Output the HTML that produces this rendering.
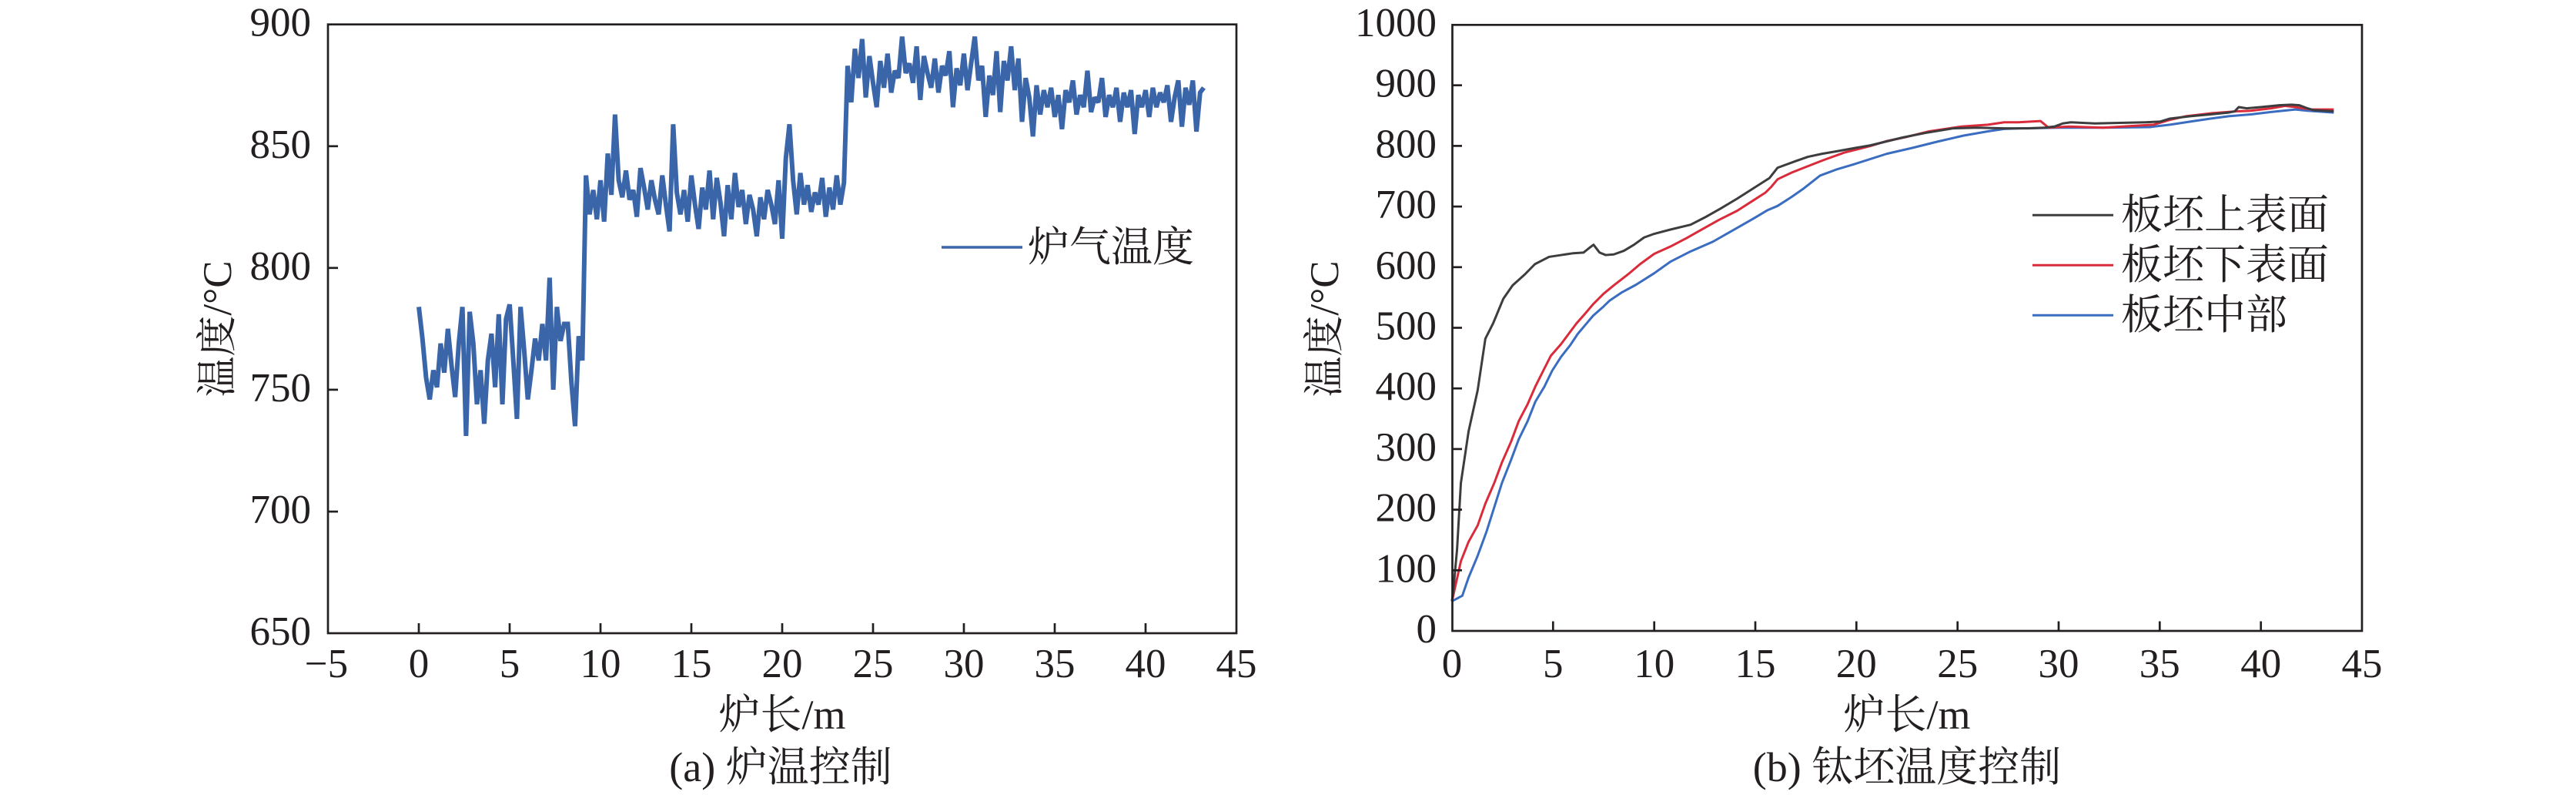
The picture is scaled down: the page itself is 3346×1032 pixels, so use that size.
<!DOCTYPE html>
<html>
<head>
<meta charset="utf-8">
<style>
html,body{margin:0;padding:0;background:#fff;}
svg{display:block;}
text{font-family:"Liberation Serif","Noto Serif CJK SC",serif;fill:#231f20;}
</style>
</head>
<body>
<svg width="3346" height="1032" viewBox="0 0 3346 1032" xmlns="http://www.w3.org/2000/svg">
<rect x="0" y="0" width="3346" height="1032" fill="#fff"/>

<!-- ============ LEFT PLOT ============ -->
<g transform="matrix(23.6 0 0 -3.1612 544 2876.78)">
<polyline fill="none" stroke="#3a66a9" stroke-width="6" vector-effect="non-scaling-stroke" stroke-linejoin="miter" stroke-miterlimit="2"
points="0,784 .2,771 .4,755 .6,746 .8,758 1,751 1.2,769 1.4,757 1.6,775 1.8,760 2,747 2.2,769 2.4,784 2.6,731 2.8,782 3,769 3.2,744 3.4,758 3.6,736 3.8,762 4,773 4.2,751 4.4,781 4.6,744 4.8,779 5,785 5.2,762 5.4,738 5.6,784 5.8,766 6,746 6.2,758 6.4,771 6.6,762 6.8,777 7,762 7.2,796 7.4,750 7.6,784 7.8,770 8,777 8.2,777 8.4,753 8.6,735 8.8,772 9,762
9.2,838 9.4,822 9.6,832 9.8,820 10,836 10.2,819 10.4,847 10.6,830 10.8,863 11,836 11.2,829 11.4,840 11.6,828 11.8,832 12,821 12.2,841 12.4,833 12.6,824 12.8,836 13,828 13.2,822 13.4,838 13.6,826 13.8,815 14,859 14.2,831 14.4,822 14.6,832 14.8,819 15,838 15.2,826 15.4,816 15.6,833 15.8,824 16,840 16.2,820 16.4,837 16.6,827 16.8,813 17,834 17.2,820 17.4,839 17.6,825 17.8,832 18,818 18.2,830 18.4,824 18.6,813 18.8,829 19,820 19.2,832 19.4,826 19.6,818 19.8,836 20,812 20.2,845 20.4,859 20.6,836 20.8,822 21,839 21.2,826 21.4,834 21.6,823 21.8,831 22,826 22.2,837 22.4,821 22.6,833 22.8,824 23,838 23.2,826 23.4,835
23.6,883 23.8,868 24,890 24.2,878 24.4,894 24.6,870 24.8,887 25,876 25.2,866 25.4,885 25.6,874 25.8,888 26,872 26.2,881 26.4,878 26.6,895 26.8,880 27,884 27.2,876 27.4,891 27.6,869 27.8,887 28,880 28.2,874 28.4,886 28.6,872 28.8,883 29,879 29.2,889 29.4,866 29.6,882 29.8,875 30,888 30.2,873 30.4,884 30.6,895 30.8,877 31,883 31.2,862 31.4,879 31.6,871 31.8,889 32,864 32.2,885 32.4,877 32.6,891 32.8,873 33,886 33.2,860
33.4,878 33.6,870 33.8,854 34,875 34.2,863 34.4,873 34.6,866 34.8,874 35,862 35.2,871 35.4,857 35.6,873 35.8,868 36,877 36.2,863 36.4,871 36.6,866 36.8,881 37,864 37.2,870 37.4,868 37.6,878 37.8,862 38,871 38.2,866 38.4,874 38.6,860 38.8,872 39,866 39.2,873 39.4,855 39.6,871 39.8,866 40,873 40.2,862 40.4,874 40.6,866 40.8,872 41,868 41.2,875 41.4,860 41.6,870 41.8,877 42,858 42.2,874 42.4,867 42.6,877 42.8,856 43,872 43.2,874"/>
</g>

<!-- frame -->
<rect x="426" y="31.7" width="1180" height="790.3" fill="none" stroke="#231f20" stroke-width="2.7"/>
<!-- y ticks -->
<g stroke="#231f20" stroke-width="2.7">
<line x1="426" y1="189.8" x2="439" y2="189.8"/>
<line x1="426" y1="347.8" x2="439" y2="347.8"/>
<line x1="426" y1="505.9" x2="439" y2="505.9"/>
<line x1="426" y1="664.1" x2="439" y2="664.1"/>
<!-- x ticks -->
<line x1="544" y1="822" x2="544" y2="809"/>
<line x1="662" y1="822" x2="662" y2="809"/>
<line x1="780" y1="822" x2="780" y2="809"/>
<line x1="898" y1="822" x2="898" y2="809"/>
<line x1="1016" y1="822" x2="1016" y2="809"/>
<line x1="1134" y1="822" x2="1134" y2="809"/>
<line x1="1252" y1="822" x2="1252" y2="809"/>
<line x1="1370" y1="822" x2="1370" y2="809"/>
<line x1="1488" y1="822" x2="1488" y2="809"/>
</g>
<g font-size="53" text-anchor="end">
<text x="404" y="46.7">900</text>
<text x="404" y="204.8">850</text>
<text x="404" y="362.8">800</text>
<text x="404" y="520.9">750</text>
<text x="404" y="679.1">700</text>
<text x="404" y="837">650</text>
</g>
<g font-size="53" text-anchor="middle">
<text x="424" y="879">−5</text>
<text x="544" y="879">0</text>
<text x="662" y="879">5</text>
<text x="780" y="879">10</text>
<text x="898" y="879">15</text>
<text x="1016" y="879">20</text>
<text x="1134" y="879">25</text>
<text x="1252" y="879">30</text>
<text x="1370" y="879">35</text>
<text x="1488" y="879">40</text>
<text x="1606" y="879">45</text>
</g>
<text x="1016" y="946" font-size="54" text-anchor="middle">炉长/m</text>
<text x="1014" y="1014" font-size="54" text-anchor="middle">(a) 炉温控制</text>
<text transform="translate(300,427) rotate(-90)" font-size="53" text-anchor="middle">温度/°C</text>
<!-- legend -->
<line x1="1223" y1="321" x2="1328" y2="321" stroke="#3a66a9" stroke-width="3.5"/>
<text x="1335" y="339" font-size="54">炉气温度</text>

<!-- ============ RIGHT PLOT ============ -->
<g transform="matrix(26.27 0 0 -0.787 1886 819)" fill="none" stroke-width="3" stroke-linejoin="round">
<polyline stroke="#3a6cbf" vector-effect="non-scaling-stroke"
points="0,49 0.51,58 0.82,88 1.27,124 1.71,164 2.09,204 2.47,244 2.92,282 3.30,316 3.74,346 4.12,378 4.57,403 4.95,429 5.39,452 5.84,471 6.22,490 6.6,505 6.98,520 7.49,535 7.8,545 8.38,558 9.1,571 10,590 10.8,609 11.8,626 12.9,642 13.9,661 14.9,680 15.6,694 16.1,701 16.8,716 17.4,730 18.2,751 19,761 19.9,770 21.5,787 22.8,797 24,807 25.3,817 26.5,824 27.3,828 28.1,829 30,830 32.2,830 34.5,831 35.5,835 36.5,840 37.5,845 38.4,849 39.5,852 40.5,856 41.7,860 42.3,858 43.6,855"/>
<polyline stroke="#d92b3a" vector-effect="non-scaling-stroke"
points="0,49 0.44,115 0.82,147 1.27,174 1.65,210 2.09,244 2.47,278 2.92,312 3.30,346 3.74,374 4.12,403 4.51,429 4.89,454 5.39,473 5.77,490 6.15,507 6.6,524 6.98,539 7.49,556 8,570 8.7,588 9.3,605 10,622 10.8,634 11.6,648 12.4,663 13.2,678 14.1,693 14.8,708 15.5,723 15.8,733 16.1,745 16.8,756 17.4,764 18.4,777 19.4,789 20.7,800 21.5,808 22.5,815 23.6,824 25.2,832 26.5,835 27.3,839 28,839 29.1,841 29.5,830 30.5,832 32.2,830 34.7,835 35.5,843 36.3,849 37.6,854 38.8,857 39.5,858 40.5,862 41.2,866 41.7,864 42.5,860 43.6,860"/>
<polyline stroke="#3d3d3f" vector-effect="non-scaling-stroke"
points="0,49 0.1,80 0.25,134 0.44,244 0.82,329 1.27,397 1.65,482 2.03,507 2.54,548 3,570 3.6,588 4.1,605 4.8,617 5.4,620 6,623 6.5,624 6.8,632 7,637 7.3,624 7.6,620 8,621 8.5,627 9,637 9.5,649 10,655 10.8,662 11.8,670 12.5,682 13.3,697 14.1,713 14.9,730 15.7,747 16.1,764 17,775 17.6,782 18.3,787 19,791 20,797 20.7,801 22.3,814 23.5,822 24.8,829 26,830 27.3,829 28.5,829 29.3,830 29.8,832 30.2,837 30.6,839 31.8,837 33,838 34.3,839 35,840 35.5,845 36.5,849 37.5,852 38.4,855 38.7,857 38.9,864 39.3,862 40,864 40.9,867 41.5,868 41.9,867 42.3,862 42.6,859 43.6,857"/>
</g>

<rect x="1886.5" y="32.3" width="1181.5" height="786.7" fill="none" stroke="#231f20" stroke-width="2.7"/>
<g stroke="#231f20" stroke-width="2.7">
<line x1="1886" y1="110.7" x2="1899" y2="110.7"/>
<line x1="1886" y1="189.4" x2="1899" y2="189.4"/>
<line x1="1886" y1="268.1" x2="1899" y2="268.1"/>
<line x1="1886" y1="346.8" x2="1899" y2="346.8"/>
<line x1="1886" y1="425.5" x2="1899" y2="425.5"/>
<line x1="1886" y1="504.2" x2="1899" y2="504.2"/>
<line x1="1886" y1="582.9" x2="1899" y2="582.9"/>
<line x1="1886" y1="661.6" x2="1899" y2="661.6"/>
<line x1="1886" y1="740.3" x2="1899" y2="740.3"/>
<line x1="2017.3" y1="819" x2="2017.3" y2="806.5"/>
<line x1="2148.7" y1="819" x2="2148.7" y2="806.5"/>
<line x1="2280" y1="819" x2="2280" y2="806.5"/>
<line x1="2411.3" y1="819" x2="2411.3" y2="806.5"/>
<line x1="2542.7" y1="819" x2="2542.7" y2="806.5"/>
<line x1="2674" y1="819" x2="2674" y2="806.5"/>
<line x1="2805.3" y1="819" x2="2805.3" y2="806.5"/>
<line x1="2936.7" y1="819" x2="2936.7" y2="806.5"/>
</g>
<g font-size="53" text-anchor="end">
<text x="1866" y="47">1000</text>
<text x="1866" y="125.7">900</text>
<text x="1866" y="204.4">800</text>
<text x="1866" y="283.1">700</text>
<text x="1866" y="361.8">600</text>
<text x="1866" y="440.5">500</text>
<text x="1866" y="519.2">400</text>
<text x="1866" y="597.9">300</text>
<text x="1866" y="676.6">200</text>
<text x="1866" y="755.3">100</text>
<text x="1866" y="834">0</text>
</g>
<g font-size="53" text-anchor="middle">
<text x="1886" y="879">0</text>
<text x="2017.3" y="879">5</text>
<text x="2148.7" y="879">10</text>
<text x="2280" y="879">15</text>
<text x="2411.3" y="879">20</text>
<text x="2542.7" y="879">25</text>
<text x="2674" y="879">30</text>
<text x="2805.3" y="879">35</text>
<text x="2936.7" y="879">40</text>
<text x="3068" y="879">45</text>
</g>
<text x="2477" y="946" font-size="54" text-anchor="middle">炉长/m</text>
<text x="2477" y="1014" font-size="54" text-anchor="middle">(b) 钛坯温度控制</text>
<text transform="translate(1738,427) rotate(-90)" font-size="53" text-anchor="middle">温度/°C</text>

<!-- legend right -->
<line x1="2640" y1="279.3" x2="2745" y2="279.3" stroke="#3d3d3f" stroke-width="3"/>
<line x1="2640" y1="344.3" x2="2745" y2="344.3" stroke="#d92b3a" stroke-width="3"/>
<line x1="2640" y1="409.3" x2="2745" y2="409.3" stroke="#3a6cbf" stroke-width="3"/>
<text x="2755" y="297" font-size="54">板坯上表面</text>
<text x="2755" y="362" font-size="54">板坯下表面</text>
<text x="2755" y="427" font-size="54">板坯中部</text>
</svg>
</body>
</html>
